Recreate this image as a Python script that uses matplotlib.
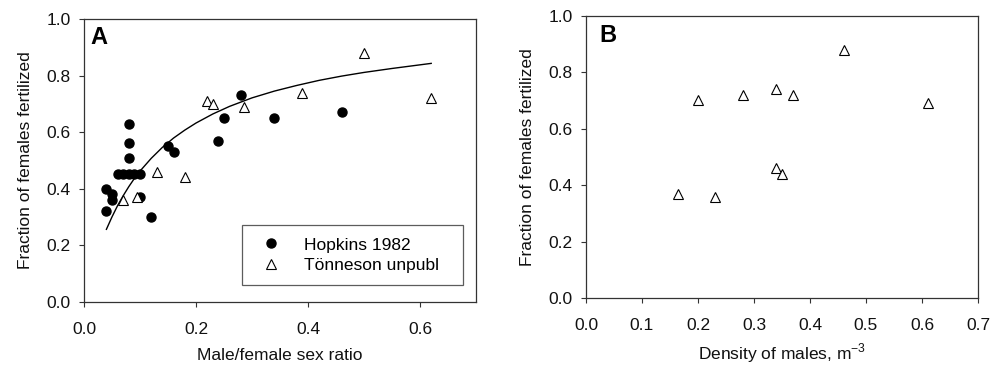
import matplotlib
matplotlib.use("Agg")
import matplotlib.pyplot as plt

plt.rcParams['font.family'] = ['Liberation Sans', 'DejaVu Sans']

# Panel A: Hopkins 1982 (filled circles)
hop_x = [0.04, 0.04, 0.05, 0.05, 0.06, 0.07, 0.08, 0.09, 0.10, 0.08, 0.08, 0.08,
         0.10, 0.12, 0.15, 0.16, 0.24, 0.25, 0.28, 0.34, 0.46]
hop_y = [0.40, 0.32, 0.38, 0.36, 0.45, 0.45, 0.45, 0.45, 0.45, 0.51, 0.56, 0.63,
         0.37, 0.30, 0.55, 0.53, 0.57, 0.65, 0.73, 0.65, 0.67]

# Panel A: Tönneson unpubl (open triangles)
ton_x = [0.07, 0.095, 0.13, 0.18, 0.22, 0.23, 0.285, 0.39, 0.50, 0.62]
ton_y = [0.36, 0.37, 0.46, 0.44, 0.71, 0.70, 0.69, 0.74, 0.88, 0.72]

# Panel A: fitted curve
fit_x = [0.04, 0.05, 0.06, 0.07, 0.08, 0.09, 0.10, 0.12, 0.14, 0.16, 0.18, 0.20,
         0.23, 0.26, 0.30, 0.34, 0.38, 0.42, 0.46, 0.50, 0.55, 0.62]
fit_y = [0.256, 0.300, 0.340, 0.375, 0.407, 0.436, 0.462, 0.507, 0.546, 0.579,
         0.607, 0.632, 0.664, 0.691, 0.721, 0.745, 0.765, 0.783, 0.798, 0.811,
         0.825, 0.843]

# Panel B: density of males
dens_x = [0.165, 0.20, 0.23, 0.28, 0.34, 0.37, 0.46, 0.61, 0.34, 0.35]
dens_y = [0.37, 0.70, 0.36, 0.72, 0.74, 0.72, 0.88, 0.69, 0.46, 0.44]

A_xticks = [0.0, 0.2, 0.4, 0.6]
B_xticks = [0.0, 0.1, 0.2, 0.3, 0.4, 0.5, 0.6, 0.7]
yticks = [0.0, 0.2, 0.4, 0.6, 0.8, 1.0]

FS = 12.5
SPC = '#333333'

fig = plt.figure(figsize=(9.92, 3.70), dpi=100)
axA = fig.add_axes([84/992, 1 - 301.7/370, 392/992, 282.7/370])
axB = fig.add_axes([586/992, 1 - 298.3/370, 392/992, 282.6/370])

tri_kw = dict(linestyle='none', marker='^', markersize=7.5, markerfacecolor='white',
              markeredgecolor='black', markeredgewidth=0.8)

axA.plot(fit_x, fit_y, color='black', linewidth=1.0, zorder=2)
axA.plot(hop_x, hop_y, linestyle='none', marker='o', markersize=6.5, color='black',
         label='Hopkins 1982', zorder=3)
axA.plot(ton_x, ton_y, label='Tönneson unpubl', zorder=4, **tri_kw)

axB.plot(dens_x, dens_y, zorder=3, **tri_kw)

for ax in (axA, axB):
    ax.set_ylim(0, 1.0)
    ax.set_xlim(0, 0.7)
    ax.set_yticks(yticks)
    ax.set_yticklabels([f"{v:.1f}" for v in yticks])
    for s in ax.spines.values():
        s.set_color(SPC)
        s.set_linewidth(0.9)
    ax.tick_params(axis='both', direction='out', length=3.5, width=0.8, color=SPC,
                   labelsize=FS, labelcolor='#111111')
    ax.tick_params(axis='y', pad=6)
    ax.tick_params(axis='x', pad=11)
    ax.set_ylabel('Fraction of females fertilized', fontsize=FS, color='#111111', labelpad=10)

axA.set_xticks(A_xticks)
axA.set_xticklabels([f"{v:.1f}" for v in A_xticks])
axB.set_xticks(B_xticks)
axB.set_xticklabels([f"{v:.1f}" for v in B_xticks])

axA.set_xlabel('Male/female sex ratio', fontsize=FS, color='#111111', labelpad=8)
axB.set_xlabel(r'Density of males, m$^{\mathregular{-3}}$', fontsize=FS, color='#111111',
               labelpad=6)

axA.text(0.017, 0.975, 'A', transform=axA.transAxes, fontsize=17, fontweight='bold',
         ha='left', va='top')
axB.text(0.034, 0.972, 'B', transform=axB.transAxes, fontsize=17, fontweight='bold',
         ha='left', va='top')

leg = axA.legend(loc='lower left', bbox_to_anchor=(0.402, 0.059, 0.565, 0.244),
                 mode='expand', fontsize=FS, frameon=True, fancybox=False,
                 borderpad=0.7, labelspacing=0.3, handlelength=2.0, handletextpad=0.9,
                 borderaxespad=0.0, numpoints=1)
leg.get_frame().set_edgecolor(SPC)
leg.get_frame().set_linewidth(0.9)

fig.savefig('out.png', dpi=100)
